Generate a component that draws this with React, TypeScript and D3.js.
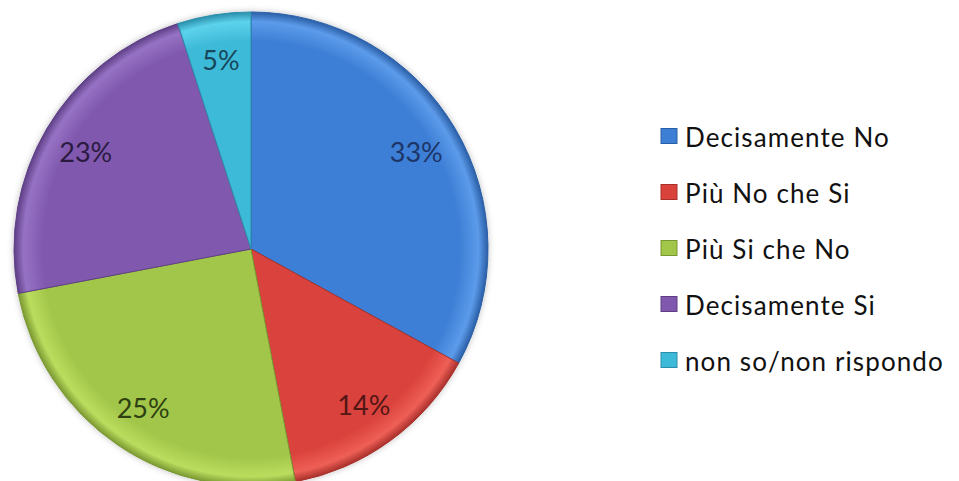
import { useEffect, useRef } from "react";
import * as d3 from "d3";

const categories = [
  "Decisamente No",
  "Più No che Si",
  "Più Si che No",
  "Decisamente Si",
  "non so/non rispondo",
];
const values = [33, 14, 25, 23, 5];
const labels = ["33%", "14%", "25%", "23%", "5%"];

const FILLS = ["#3E7FD6", "#DA423C", "#A2C64A", "#8059AE", "#3EBAD8"];
const LIGHTS = ["#5C9BEA", "#EE5F56", "#BBDD5E", "#9672C4", "#5DD2EC"];
const DARKS = ["#2A5EA6", "#A8302B", "#7A9832", "#5E3F86", "#2A8EAB"];
const TEXT = ["#1C3566", "#521615", "#2E3F12", "#2A1A40", "#18465A"];

const W = 959;
const H = 481;

export default function App() {
  const svgRef = useRef<SVGSVGElement>(null);

  useEffect(() => {
    const svgEl = svgRef.current;
    if (!svgEl) return;
    const svg = d3.select(svgEl);
    svg.selectAll("*").remove();

    const cx = 251;
    const cy = 249;
    const r = 237;

    const defs = svg.append("defs");
    FILLS.forEach((c, i) => {
      const g = defs
        .append("radialGradient")
        .attr("id", `slice-${i}`)
        .attr("gradientUnits", "userSpaceOnUse")
        .attr("cx", 0)
        .attr("cy", 0)
        .attr("r", r);
      g.append("stop").attr("offset", "0%").attr("stop-color", c);
      g.append("stop").attr("offset", "88%").attr("stop-color", c);
      g.append("stop").attr("offset", "96%").attr("stop-color", LIGHTS[i]);
      g.append("stop").attr("offset", "100%").attr("stop-color", DARKS[i]);
    });
    defs
      .append("filter")
      .attr("id", "pie-shadow")
      .attr("x", "-10%")
      .attr("y", "-10%")
      .attr("width", "120%")
      .attr("height", "120%")
      .append("feDropShadow")
      .attr("dx", 0)
      .attr("dy", 0)
      .attr("stdDeviation", 3)
      .attr("flood-color", "#000")
      .attr("flood-opacity", 0.25);

    const pie = d3
      .pie<number>()
      .sort(null)
      .value((d) => d);
    const arcs = pie(values);
    const arc = d3.arc<d3.PieArcDatum<number>>().innerRadius(0).outerRadius(r);
    const labelArc = d3
      .arc<d3.PieArcDatum<number>>()
      .innerRadius(r * 0.81)
      .outerRadius(r * 0.81);

    const g = svg
      .append("g")
      .attr("transform", `translate(${cx},${cy})`)
      .attr("filter", "url(#pie-shadow)");

    g.selectAll("path")
      .data(arcs)
      .enter()
      .append("path")
      .attr("d", arc)
      .attr("fill", (_, i) => `url(#slice-${i})`)
      .attr("stroke", (_, i) => DARKS[i])
      .attr("stroke-width", 1)
      .attr("stroke-linejoin", "round");

    svg
      .append("g")
      .attr("transform", `translate(${cx},${cy})`)
      .selectAll("text")
      .data(arcs)
      .enter()
      .append("text")
      .attr("x", (d) => labelArc.centroid(d)[0])
      .attr("y", (d) => labelArc.centroid(d)[1])
      .attr("text-anchor", "middle")
      .attr("dominant-baseline", "central")
      .attr("fill", (_, i) => TEXT[i])
      .attr("font-size", "27px")
      .attr("font-family", "Lato, 'Open Sans', sans-serif")
      .text((_, i) => labels[i]);

    const legendY = d3
      .scalePoint<string>()
      .domain(categories)
      .range([136, 360]);

    const legend = svg
      .append("g")
      .selectAll("g")
      .data(categories)
      .enter()
      .append("g")
      .attr("transform", (d) => `translate(661,${legendY(d)})`);

    legend
      .append("rect")
      .attr("x", 0)
      .attr("y", -7.5)
      .attr("width", 16)
      .attr("height", 15)
      .attr("fill", (_, i) => FILLS[i])
      .attr("stroke", (_, i) => DARKS[i])
      .attr("stroke-width", 1);

    legend
      .append("text")
      .attr("x", 24)
      .attr("y", 1)
      .attr("dominant-baseline", "central")
      .attr("fill", "#111")
      .attr("font-size", "26px")
      .attr("letter-spacing", "1.1px")
      .attr("font-family", "Lato, 'Open Sans', sans-serif")
      .text((d) => d);
  }, []);

  return (
    <svg
      ref={svgRef}
      width={W}
      height={H}
      style={{ position: "absolute", left: 0, top: 0, display: "block", background: "#fff" }}
    />
  );
}
